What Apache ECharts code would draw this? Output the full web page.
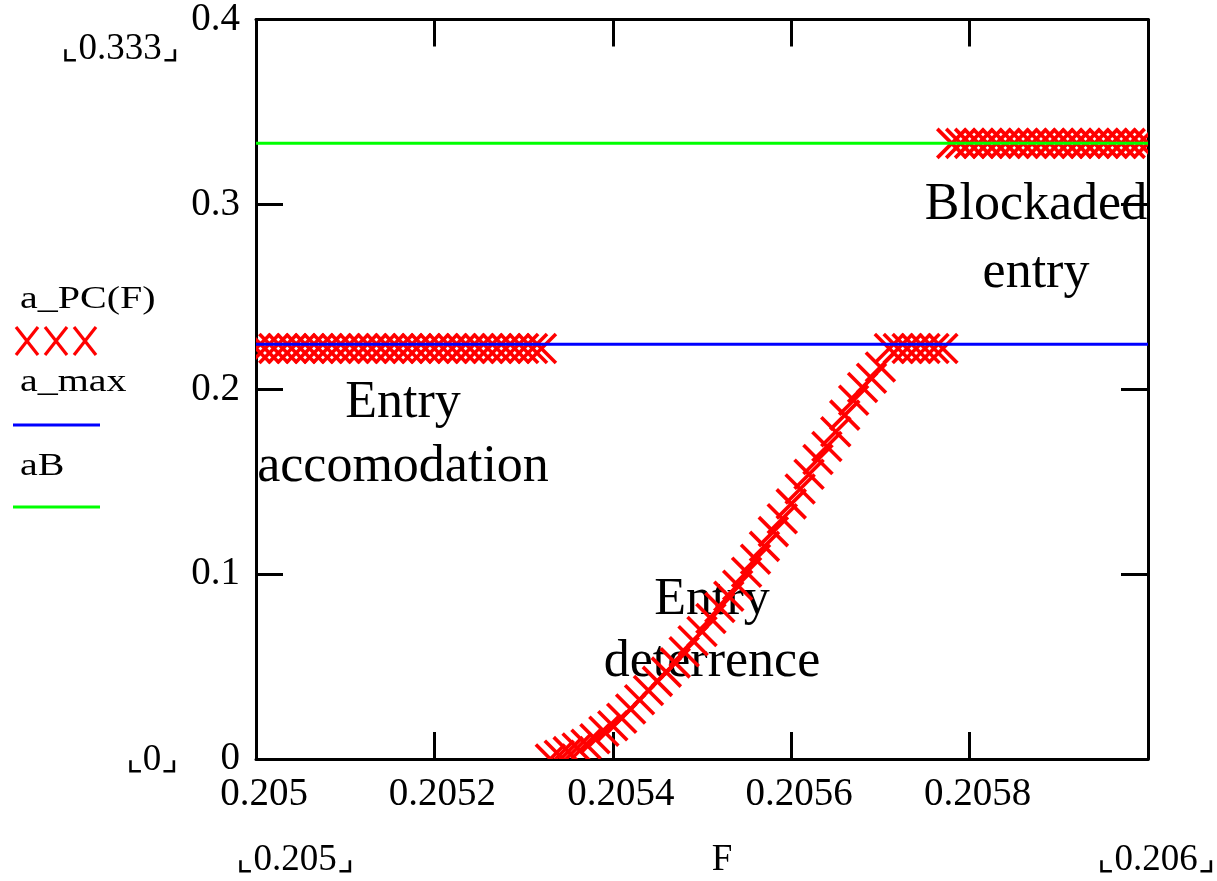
<!DOCTYPE html>
<html><head><meta charset="utf-8">
<script src="https://cdn.jsdelivr.net/npm/echarts@6/dist/echarts.min.js"></script>
<style>html,body{margin:0;padding:0;background:#fff}#c{width:1217px;height:881px}</style>
</head><body><div id="c"></div>
<script>
// F sample points
const F = [
0.20500,0.20501,0.20502,0.20503,0.20504,0.20505,0.20506,0.20507,0.20508,0.20509,
0.20510,0.20511,0.20512,0.20513,0.20514,0.20515,0.20516,0.20517,0.20518,0.20519,
0.20520,0.20521,0.20522,0.20523,0.20524,0.20525,0.20526,0.20527,0.20528,0.20529,
0.20530,0.20531,0.20532,0.20533,0.20534,0.20535,0.20536,0.20537,0.20538,0.20539,
0.20540,0.20541,0.20542,0.20543,0.20544,0.20545,0.20546,0.20547,0.20548,0.20549,
0.20550,0.20551,0.20552,0.20553,0.20554,0.20555,0.20556,0.20557,0.20558,0.20559,
0.20560,0.20561,0.20562,0.20563,0.20564,0.20565,0.20566,0.20567,0.20568,0.20569,
0.20570,0.20571,0.20572,0.20573,0.20574,0.20575,0.20576,0.20577,0.20578,0.20579,
0.20580,0.20581,0.20582,0.20583,0.20584,0.20585,0.20586,0.20587,0.20588,0.20589,
0.20590,0.20591,0.20592,0.20593,0.20594,0.20595,0.20596,0.20597,0.20598,0.20599,
0.20600];
// a_PC(F) values
const aPC = [
0.222,0.222,0.222,0.222,0.222,0.222,0.222,0.222,0.222,0.222,
0.222,0.222,0.222,0.222,0.222,0.222,0.222,0.222,0.222,0.222,
0.222,0.222,0.222,0.222,0.222,0.222,0.222,0.222,0.222,0.222,
0.222,0.222,0.222,
0.000,0.002,0.004,0.006,0.008,0.011,0.015,0.018,0.022,0.027,
0.032,0.037,0.042,0.047,0.052,0.058,0.064,0.069,0.076,0.082,
0.088,0.094,0.101,0.108,0.115,0.123,0.130,0.138,0.146,0.154,
0.162,0.169,0.177,0.186,0.194,0.201,0.206,0.212,0.222,
0.222,0.222,0.222,0.222,0.222,0.222,
0.333,0.333,0.333,0.333,0.333,0.333,0.333,0.333,0.333,0.333,
0.333,0.333,0.333,0.333,0.333,0.333,0.333,0.333,0.333,0.333,
0.333,0.333,0.333];
const aMax = 0.2243;
const aB = 0.333;
const xRange = [0.205, 0.206];
const yRange = [0, 0.4];
const seriesNames = ['a_PC(F)', 'a_max', 'aB'];
const regionLabels = [
  {lines:['Entry','accomodation'], x:403, y:[403,467]},
  {lines:['Entry','deterrence'], x:712, y:[600,662]},
  {lines:['Blockaded','entry'], x:1036, y:[205,273]}
];

const SERIF = '"Liberation Serif","Times New Roman",serif';
const RED = '#ff0000', BLUE = '#0000ff', GREEN = '#00ff00';

const chart = echarts.init(document.getElementById('c'));

function crossShape(cx, cy, hw, hh, lw) {
  return [
    {type:'line', shape:{x1:cx-hw,y1:cy-hh,x2:cx+hw,y2:cy+hh}, style:{stroke:RED,lineWidth:lw}},
    {type:'line', shape:{x1:cx-hw,y1:cy+hh,x2:cx+hw,y2:cy-hh}, style:{stroke:RED,lineWidth:lw}}
  ];
}

const axisCommon = {
  axisLine:{show:true, onZero:false, lineStyle:{color:'#000', width:3}},
  axisTick:{show:true, inside:true, length:27, lineStyle:{color:'#000', width:3}},
  splitLine:{show:false}
};

const graphics = [];
regionLabels.forEach(r => {
  r.lines.forEach((t,i) => graphics.push({type:'text', z:1, style:{text:t, x:r.x, y:r.y[i], font:'52px '+SERIF, fill:'#000', textAlign:'center', textVerticalAlign:'middle'}}));
});
// legend
const legTexts = [[seriesNames[0],300],[seriesNames[1],383],[seriesNames[2],467]];
legTexts.forEach(([t,y]) => graphics.push({type:'text', x:20, y:y, scaleX:1.25, style:{text:t, x:0, y:0, font:'32px '+SERIF, fill:'#000', textAlign:'left', textVerticalAlign:'middle'}}));
[27,56,85].forEach(cx => graphics.push({type:'group', children:crossShape(cx,341,11,14,3.2)}));
graphics.push({type:'line', shape:{x1:13,y1:425,x2:100,y2:425}, style:{stroke:BLUE,lineWidth:3}});
graphics.push({type:'line', shape:{x1:13,y1:507,x2:100,y2:507}, style:{stroke:GREEN,lineWidth:3}});
// axis limit placeholders
[['⌞0.333⌟',120,49],['⌞0⌟',152,760],['⌞0.205⌟',295,860],['F',722,860],['⌞0.206⌟',1156,860]].forEach(([t,x,y]) =>
  graphics.push({type:'text', style:{text:t, x:x, y:y, font:'37px '+SERIF, fill:'#000', textAlign:'center', textVerticalAlign:'middle'}}));

chart.setOption({
  animation:false,
  backgroundColor:'#fff',
  grid:{left:256, top:16, width:892, height:743, containLabel:false},
  xAxis:[
    Object.assign({type:'value', position:'bottom', min:xRange[0], max:xRange[1], interval:0.0002,
      axisLabel:{show:true, showMaxLabel:false, margin:16, padding:[0,0,0,16], color:'#000', fontSize:39, fontFamily:SERIF,
        formatter:v => String(parseFloat(v.toFixed(5)))}}, axisCommon),
    Object.assign({type:'value', position:'top', min:xRange[0], max:xRange[1], interval:0.0002, axisLabel:{show:false}}, axisCommon)
  ],
  yAxis:[
    Object.assign({type:'value', position:'left', min:yRange[0], max:yRange[1], interval:0.1,
      axisLabel:{show:true, margin:16, padding:[14,0,0,0], color:'#000', fontSize:39, fontFamily:SERIF,
        formatter:v => String(parseFloat(v.toFixed(3)))}}, axisCommon),
    Object.assign({type:'value', position:'right', min:yRange[0], max:yRange[1], interval:0.1, axisLabel:{show:false}}, axisCommon)
  ],
  series:[
    {name:seriesNames[0], type:'custom', clip:true, z:2,
      data:F.map((f,i)=>[f,aPC[i]]), encode:{x:0,y:1},
      renderItem:(params, api) => {
        const p = api.coord([api.value(0), api.value(1)]);
        return {type:'group', children:crossShape(p[0], p[1], 14.5, 14.5, 3.6)};
      }},
    {name:seriesNames[1], type:'line', z:3, symbol:'none', data:[[xRange[0],aMax],[xRange[1],aMax]], lineStyle:{color:BLUE,width:3}},
    {name:seriesNames[2], type:'line', z:3, symbol:'none', data:[[xRange[0],aB],[xRange[1],aB]], lineStyle:{color:GREEN,width:3}}
  ],
  graphic:graphics
});
</script></body></html>
